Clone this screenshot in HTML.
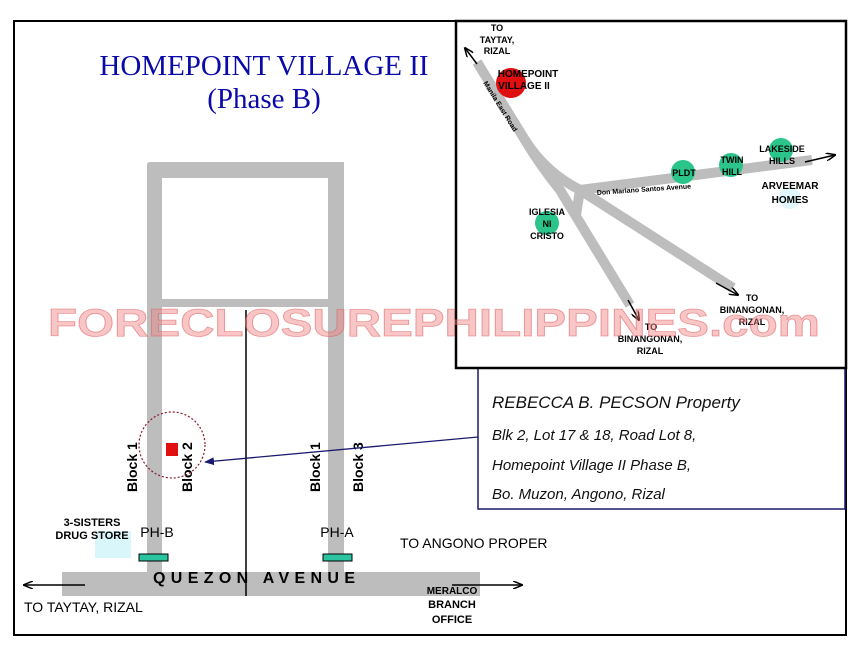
<!DOCTYPE html>
<html><head><meta charset="utf-8"><style>
html,body{margin:0;padding:0;background:#fff;}
svg{display:block;}
</style></head><body>
<svg width="867" height="650" viewBox="0 0 867 650" xmlns="http://www.w3.org/2000/svg" font-family="Liberation Sans, Arial, sans-serif">
<defs>
<marker id="ah" markerWidth="10" markerHeight="8" refX="9" refY="4" orient="auto" markerUnits="userSpaceOnUse"><path d="M0,0 L10,4 L0,8" fill="none" stroke="#000" stroke-width="1.5"/></marker>
<marker id="ahb" markerWidth="10" markerHeight="8" refX="9" refY="4" orient="auto" markerUnits="userSpaceOnUse"><path d="M0,0 L10,4 L0,8 Z" fill="#1a1a6e"/></marker>
</defs>
<rect x="14" y="21" width="832" height="614" fill="#fff" stroke="#000" stroke-width="2"/>
<text x="264" y="75" text-anchor="middle" font-family="Liberation Serif, serif" font-size="29" fill="#0a0aa8">HOMEPOINT VILLAGE II</text>
<text x="264" y="108" text-anchor="middle" font-family="Liberation Serif, serif" font-size="29" fill="#0a0aa8">(Phase B)</text>
<!-- roads -->
<path d="M147,165 Q147,162 150,162 L344,162 L344,572 L328,572 L328,307 L162,307 L162,572 L147,572 Z" fill="#bdbdbd"/>
<rect x="162" y="178" width="166" height="121" fill="#fff"/>
<rect x="62" y="572" width="418" height="24" fill="#bdbdbd"/>
<line x1="246" y1="310" x2="246" y2="596" stroke="#000" stroke-width="1.5"/>
<text x="153" y="579" font-size="16" font-weight="bold" textLength="202" lengthAdjust="spacing" fill="#000" dominant-baseline="middle">QUEZON AVENUE</text>
<line x1="85" y1="585" x2="24" y2="585" stroke="#000" stroke-width="1.5" marker-end="url(#ah)"/>
<line x1="452" y1="585" x2="522" y2="585" stroke="#000" stroke-width="1.5" marker-end="url(#ah)"/>
<rect x="95" y="531" width="36" height="27" fill="#d9f6fb"/>
<text x="92" y="526" text-anchor="middle" font-size="11" font-weight="bold">3-SISTERS</text>
<text x="92" y="539" text-anchor="middle" font-size="11" font-weight="bold">DRUG STORE</text>
<text x="157" y="537" text-anchor="middle" font-size="14">PH-B</text>
<rect x="139" y="554" width="29" height="7" fill="#2bc4a0" stroke="#000" stroke-width="1"/>
<text x="337" y="537" text-anchor="middle" font-size="14">PH-A</text>
<rect x="323" y="554" width="29" height="7" fill="#2bc4a0" stroke="#000" stroke-width="1"/>
<text x="400" y="548" font-size="14">TO ANGONO PROPER</text>
<text x="24" y="612" font-size="14">TO TAYTAY, RIZAL</text>
<text x="452" y="594" text-anchor="middle" font-size="10" font-weight="bold">MERALCO</text>
<text x="452" y="608" text-anchor="middle" font-size="11" font-weight="bold">BRANCH</text>
<text x="452" y="623" text-anchor="middle" font-size="11" font-weight="bold">OFFICE</text>
<text transform="translate(137,492) rotate(-90)" font-size="14" font-weight="bold">Block 1</text>
<text transform="translate(192,492) rotate(-90)" font-size="14" font-weight="bold">Block 2</text>
<text transform="translate(320,492) rotate(-90)" font-size="14" font-weight="bold">Block 1</text>
<text transform="translate(363,492) rotate(-90)" font-size="14" font-weight="bold">Block 3</text>
<circle cx="172" cy="445" r="33" fill="none" stroke="#8b1a2a" stroke-width="1.2" stroke-dasharray="2,2"/>
<rect x="166" y="443" width="12" height="13" fill="#e01010"/>
<line x1="478" y1="437" x2="205" y2="462" stroke="#1a1a6e" stroke-width="1.3" marker-end="url(#ahb)"/>
<!-- info box -->
<rect x="478" y="368" width="367" height="141" fill="#fff" stroke="#1a1a6e" stroke-width="1.5"/>
<g font-style="italic" fill="#111">
<text x="492" y="408" font-size="17">REBECCA B. PECSON  Property</text>
<text x="492" y="440" font-size="15">Blk 2, Lot 17 &amp; 18, Road Lot 8,</text>
<text x="492" y="470" font-size="15">Homepoint Village II Phase B,</text>
<text x="492" y="499" font-size="15">Bo. Muzon, Angono, Rizal</text>
</g>
<!-- inset -->
<rect x="456" y="21" width="390" height="347" fill="#fff" stroke="#000" stroke-width="2.5"/>
<g fill="none" stroke="#bdbdbd" stroke-width="10" stroke-linecap="butt">
<path d="M477,62 L525,140 Q545,172 580,190 L812,160"/>
<path d="M525,140 Q540,165 560,190 L630,305"/>
<path d="M580,190 L733,288"/>
<path d="M580,190 L576,215"/>
</g>
<g stroke="#000" stroke-width="1.5">
<line x1="477" y1="64" x2="465" y2="48" marker-end="url(#ah)"/>
<line x1="805" y1="162" x2="835" y2="155" marker-end="url(#ah)"/>
<line x1="628" y1="300" x2="639" y2="320" marker-end="url(#ah)"/>
<line x1="716" y1="283" x2="738" y2="295" marker-end="url(#ah)"/>
</g>
<circle cx="511" cy="83" r="15" fill="#e01010"/>
<circle cx="683" cy="172" r="12" fill="#2bc48a"/>
<circle cx="731" cy="165" r="12" fill="#2bc48a"/>
<circle cx="781" cy="150" r="12" fill="#2bc48a"/>
<circle cx="547" cy="223" r="12" fill="#2bc48a"/>
<circle cx="790" cy="198" r="11" fill="#e0f8fb"/>
<g font-size="9" font-weight="bold" fill="#000" text-anchor="middle">
<text x="497" y="31">TO</text>
<text x="497" y="43">TAYTAY,</text>
<text x="497" y="54">RIZAL</text>
<text x="528" y="77" font-size="10">HOMEPOINT</text>
<text x="524" y="89" font-size="10">VILLAGE II</text>
<text x="684" y="176">PLDT</text>
<text x="732" y="163">TWIN</text>
<text x="732" y="175">HILL</text>
<text x="782" y="152">LAKESIDE</text>
<text x="782" y="164">HILLS</text>
<text x="790" y="189" font-size="10">ARVEEMAR</text>
<text x="790" y="203" font-size="10">HOMES</text>
<text x="547" y="215">IGLESIA</text>
<text x="547" y="227">NI</text>
<text x="547" y="239">CRISTO</text>
<text x="752" y="301">TO</text>
<text x="752" y="313">BINANGONAN,</text>
<text x="752" y="325">RIZAL</text>
<text x="651" y="330">TO</text>
<text x="650" y="342">BINANGONAN,</text>
<text x="650" y="354">RIZAL</text>
</g>
<text x="597" y="195" font-size="7" font-weight="bold" transform="rotate(-4 597 195)">Don Mariano Santos Avenue</text>
<text x="483" y="83" font-size="7" font-weight="bold" transform="rotate(58 483 83)">Manila East Road</text>
<!-- watermark -->
<text x="48" y="336" font-size="39" font-weight="bold" textLength="772" lengthAdjust="spacingAndGlyphs" fill="#f08080" fill-opacity="0.45" stroke="#e06060" stroke-opacity="0.6" stroke-width="0.8">FORECLOSUREPHILIPPINES.com</text>
</svg>
</body></html>
